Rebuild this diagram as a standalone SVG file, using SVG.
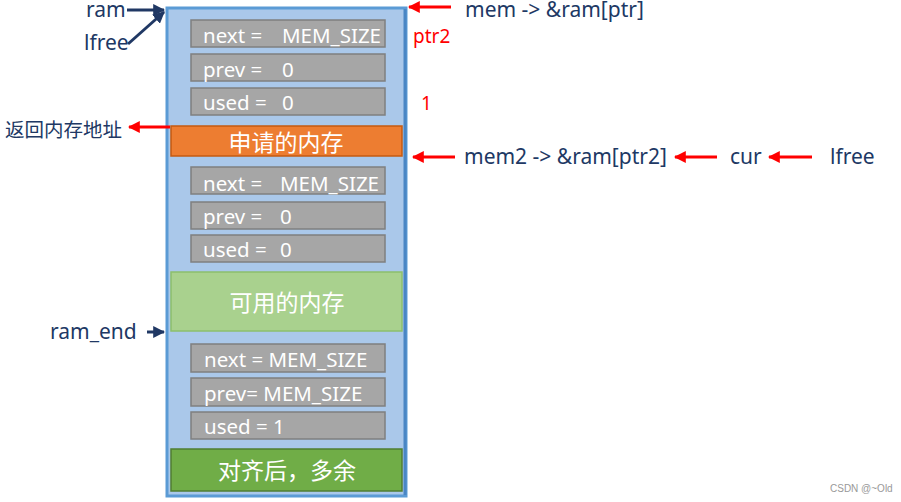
<svg xmlns="http://www.w3.org/2000/svg" width="901" height="502" viewBox="0 0 901 502">
<defs>
<style>
.lbl{font-family:"Noto Sans","DejaVu Sans",sans-serif;font-size:21px;fill:#203864}
.red{font-family:"Noto Sans","DejaVu Sans",sans-serif;font-size:19px;fill:#ff0000}
.box{fill:#a6a6a6;stroke:#7f7f7f;stroke-width:1.5}
.bt{font-family:"Noto Sans","DejaVu Sans",sans-serif;font-size:20.5px;fill:#ffffff}
.cn{font-family:"Noto Sans CJK SC","Noto Sans",sans-serif;font-size:23px;fill:#ffffff}
.ra{stroke:#ff0000;stroke-width:3;fill:none}
.na{stroke:#203864;stroke-width:3;fill:none}
</style>
<marker id="mr" viewBox="0 0 10 10" refX="9" refY="5" markerWidth="4" markerHeight="4" orient="auto" markerUnits="strokeWidth"><path d="M0,0L10,5L0,10z" fill="#ff0000"/></marker>
<marker id="mn" viewBox="0 0 10 10" refX="9" refY="5" markerWidth="4" markerHeight="4" orient="auto" markerUnits="strokeWidth"><path d="M0,0L10,5L0,10z" fill="#203864"/></marker>
</defs>
<rect width="901" height="502" fill="#ffffff"/>
<g id="ram-block">
<rect x="167" y="8" width="239" height="488" fill="#aac8ea" stroke="#5b9bd5" stroke-width="3"/>
<line x1="405" y1="9" x2="405" y2="495" stroke="#4a86c4" stroke-width="3"/>
</g>
<g id="header1">
<rect class="box" x="191" y="20" width="194" height="27"/>
<text class="bt" x="203" y="43">next =<tspan x="282">MEM_SIZE</tspan></text>
<rect class="box" x="191" y="54" width="194" height="27"/>
<text class="bt" x="203" y="77">prev =<tspan x="282">0</tspan></text>
<rect class="box" x="191" y="88" width="194" height="27"/>
<text class="bt" x="203" y="110">used =<tspan x="282">0</tspan></text>
</g>
<g id="alloc">
<rect x="171" y="126" width="231" height="30" fill="#ed7d31" stroke="#c55a11" stroke-width="1.5"/>
<text class="cn" x="286" y="151" text-anchor="middle">申请的内存</text>
</g>
<g id="header2">
<rect class="box" x="191" y="167" width="194" height="27"/>
<text class="bt" x="203" y="191">next =<tspan x="280">MEM_SIZE</tspan></text>
<rect class="box" x="191" y="202" width="194" height="27"/>
<text class="bt" x="203" y="224">prev =<tspan x="280">0</tspan></text>
<rect class="box" x="191" y="235" width="194" height="27"/>
<text class="bt" x="203" y="257">used =<tspan x="280">0</tspan></text>
</g>
<g id="free">
<rect x="171" y="272" width="231" height="59" fill="#a9d18e" stroke="#8cbf6c" stroke-width="1.5"/>
<text class="cn" x="287" y="311" text-anchor="middle">可用的内存</text>
</g>
<g id="header3">
<rect class="box" x="191" y="344" width="194" height="28"/>
<text class="bt" x="204" y="367">next = MEM_SIZE</text>
<rect class="box" x="191" y="378" width="194" height="28"/>
<text class="bt" x="204" y="401">prev= MEM_SIZE</text>
<rect class="box" x="191" y="412" width="194" height="27"/>
<text class="bt" x="204" y="434">used = 1</text>
</g>
<g id="align">
<rect x="171" y="449" width="231" height="42" fill="#70ad47" stroke="#507e32" stroke-width="1.5"/>
<text class="cn" x="287" y="479" text-anchor="middle">对齐后，多余</text>
</g>
<g id="labels">
<text class="lbl" x="86" y="17">ram</text>
<text class="lbl" x="84" y="50">lfree</text>
<text class="lbl" x="50" y="339">ram_end</text>
<text x="5" y="137" style="font-family:'Noto Sans CJK SC',sans-serif;font-size:19.5px;fill:#203864">返回内存地址</text>
<text class="lbl" x="465" y="17">mem -&gt; &amp;ram[ptr]</text>
<text class="red" x="413" y="43">ptr2</text>
<text class="red" x="421" y="110">1</text>
<text class="lbl" x="464" y="164">mem2 -&gt; &amp;ram[ptr2]</text>
<text class="lbl" x="730" y="164">cur</text>
<text class="lbl" x="830" y="164">lfree</text>
<text x="830" y="492" style="font-family:'Liberation Sans',sans-serif;font-size:10px;fill:#999999">CSDN @~Old</text>
</g>
<g id="connectors">
<line class="na" x1="127" y1="10" x2="164" y2="10" marker-end="url(#mn)"/>
<line class="na" x1="128" y1="44" x2="164" y2="12" marker-end="url(#mn)"/>
<line class="na" x1="147" y1="332" x2="164" y2="332" marker-end="url(#mn)"/>
<line class="ra" x1="451" y1="7" x2="409" y2="7" marker-end="url(#mr)"/>
<line class="ra" x1="170" y1="127" x2="129" y2="127" marker-end="url(#mr)"/>
<line class="ra" x1="455" y1="157" x2="413" y2="157" marker-end="url(#mr)"/>
<line class="ra" x1="717" y1="157" x2="675" y2="157" marker-end="url(#mr)"/>
<line class="ra" x1="812" y1="157" x2="769" y2="157" marker-end="url(#mr)"/>
</g>
</svg>
